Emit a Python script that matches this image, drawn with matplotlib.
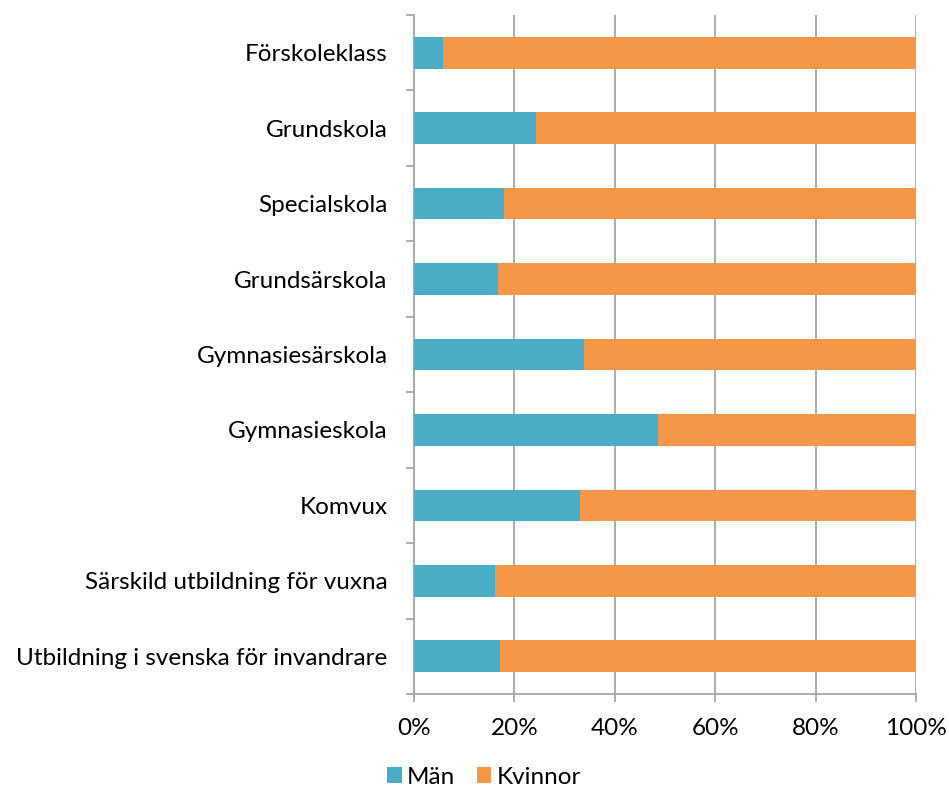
import numpy as np
from matplotlib import pyplot as plt
from matplotlib.ticker import FixedLocator, PercentFormatter

plt.rcParams['font.family'] = ['Lato', 'DejaVu Sans']

# categories, top to bottom
categories = ['Förskoleklass', 'Grundskola', 'Specialskola', 'Grundsärskola',
              'Gymnasiesärskola', 'Gymnasieskola', 'Komvux',
              'Särskild utbildning för vuxna',
              'Utbildning i svenska för invandrare']
# share men (%), women = rest
man = [5.7, 24.4, 17.9, 16.7, 33.8, 48.6, 33.0, 16.2, 17.2]
kvinnor = [100 - v for v in man]
xticks = [0, 20, 40, 60, 80, 100]

teal = '#4BACC6'
orange = '#F79646'
grey = '#A6A6A6'
fs = 17.5

fig = plt.figure(figsize=(9.49, 7.92), dpi=100)
ax = fig.add_axes([414 / 949, 1 - 694 / 792, 502 / 949, 679 / 792])

y = np.arange(len(categories))
ax.barh(y, man, height=0.42, color=teal, label='Män', zorder=3)
ax.barh(y, kvinnor, left=man, height=0.42, color=orange, label='Kvinnor', zorder=3)

ax.set_xlim(0, 100)
ax.set_ylim(len(categories) - 0.5, -0.5)

ax.set_xticks(xticks)
ax.xaxis.set_major_formatter(PercentFormatter(decimals=0))
ax.grid(axis='x', color=grey, linewidth=1.3, zorder=0)

ax.set_yticks(y)
ax.set_yticklabels(categories)
ax.yaxis.set_minor_locator(FixedLocator(np.arange(len(categories) + 1) - 0.5))

ax.tick_params(axis='y', which='major', length=0, pad=19, labelsize=fs)
ax.tick_params(axis='y', which='minor', length=6, width=1.3, color=grey)
ax.tick_params(axis='x', length=6, width=1.3, color=grey, pad=11, labelsize=fs)

for s in ['top', 'right']:
    ax.spines[s].set_visible(False)
for s in ['left', 'bottom']:
    ax.spines[s].set_color(grey)
    ax.spines[s].set_linewidth(1.3)

fig.legend(loc='center', bbox_to_anchor=(484 / 949, 1 - 777 / 792), ncol=2,
           frameon=False, fontsize=fs, handlelength=0.6, handleheight=0.6,
           handletextpad=0.2, columnspacing=0.9, borderpad=0.1)

plt.savefig('out.png', dpi=100)
